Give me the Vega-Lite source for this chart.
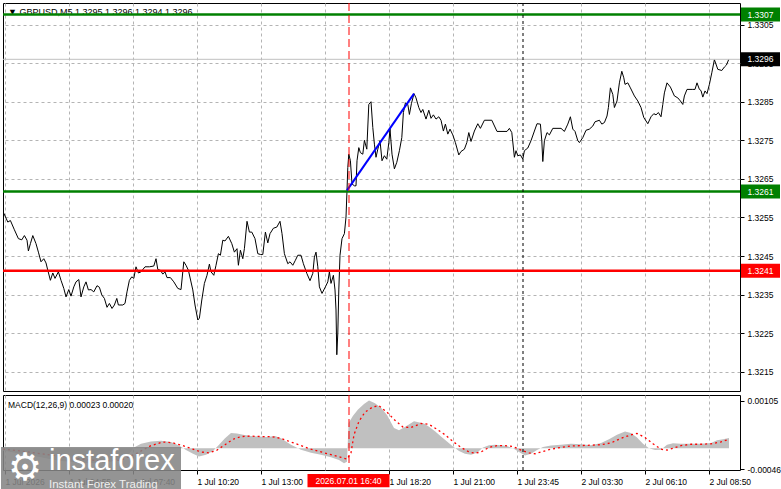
{
  "$schema": "https://vega.github.io/schema/vega-lite/v6.json",
  "background": "white",
  "padding": {"left": 0, "top": 2, "right": 0, "bottom": 0},
  "spacing": 2,
  "config": {
    "view": {"stroke": "#000000", "strokeWidth": 1},
    "axis": {"labelFont": "Liberation Sans", "labelFontSize": 8.5, "labelColor": "#000000", "tickColor": "#000000", "gridColor": "#b4b4b4", "gridDash": [3, 3], "gridWidth": 1, "domain": false},
    "text": {"font": "Liberation Sans"}
  },
  "datasets": {
    "price": [
      {"x":0.4,"p":1.32561},{"x":2.4,"p":1.32538},{"x":3.7,"p":1.32542},{"x":5.7,"p":1.32518},{"x":7.7,"p":1.32495},{"x":9.4,"p":1.32492},{"x":10.7,"p":1.32503},{"x":12,"p":1.32491},{"x":12.7,"p":1.32463},{"x":13.7,"p":1.32482},{"x":14.9,"p":1.32503},{"x":16.5,"p":1.32482},{"x":17.7,"p":1.3246},{"x":19,"p":1.32435},{"x":20.4,"p":1.32443},{"x":21.5,"p":1.32432},{"x":22.4,"p":1.32413},{"x":23.7,"p":1.32387},{"x":24.9,"p":1.32406},{"x":26,"p":1.32392},{"x":27.7,"p":1.32409},{"x":29,"p":1.32387},{"x":30.4,"p":1.32366},{"x":31.5,"p":1.32344},{"x":32.9,"p":1.32363},{"x":34,"p":1.32346},{"x":35.4,"p":1.3237},{"x":36.5,"p":1.32383},{"x":37.9,"p":1.32389},{"x":39,"p":1.32344},{"x":40.4,"p":1.3237},{"x":41.5,"p":1.32383},{"x":42.7,"p":1.32362},{"x":44,"p":1.32363},{"x":45.4,"p":1.32357},{"x":47,"p":1.32373},{"x":48.2,"p":1.32369},{"x":49.4,"p":1.32349},{"x":50.7,"p":1.3234},{"x":52,"p":1.32317},{"x":53.2,"p":1.32327},{"x":54.5,"p":1.32314},{"x":55.7,"p":1.32323},{"x":56.9,"p":1.3234},{"x":57.7,"p":1.32323},{"x":59.9,"p":1.32323},{"x":61,"p":1.32327},{"x":62,"p":1.32357},{"x":63.2,"p":1.32387},{"x":64.4,"p":1.32396},{"x":65.4,"p":1.32392},{"x":66.5,"p":1.32422},{"x":67.7,"p":1.32406},{"x":69,"p":1.32409},{"x":71,"p":1.32422},{"x":73.2,"p":1.32422},{"x":75.4,"p":1.32424},{"x":76.5,"p":1.32443},{"x":77.4,"p":1.32415},{"x":78.7,"p":1.32413},{"x":79.9,"p":1.32403},{"x":81,"p":1.32409},{"x":82,"p":1.32394},{"x":83.7,"p":1.32394},{"x":85.4,"p":1.32383},{"x":87.4,"p":1.32366},{"x":89,"p":1.32363},{"x":90.4,"p":1.32435},{"x":91.5,"p":1.32426},{"x":92.7,"p":1.32413},{"x":94.9,"p":1.32362},{"x":96,"p":1.32323},{"x":97.4,"p":1.32284},{"x":98.2,"p":1.32289},{"x":99.4,"p":1.32336},{"x":100.7,"p":1.32379},{"x":102,"p":1.324},{"x":103.2,"p":1.32429},{"x":104,"p":1.32409},{"x":105.4,"p":1.324},{"x":106.5,"p":1.32426},{"x":107.7,"p":1.32456},{"x":108.7,"p":1.32452},{"x":109.9,"p":1.32491},{"x":111,"p":1.32489},{"x":112.7,"p":1.32501},{"x":114.4,"p":1.32482},{"x":115.7,"p":1.3246},{"x":117,"p":1.32469},{"x":117.7,"p":1.32426},{"x":118.7,"p":1.32465},{"x":119.9,"p":1.32443},{"x":120.7,"p":1.32469},{"x":122,"p":1.3254},{"x":123.2,"p":1.32512},{"x":124.4,"p":1.32512},{"x":126,"p":1.32495},{"x":127.4,"p":1.32456},{"x":128.7,"p":1.32454},{"x":129.9,"p":1.32454},{"x":131.2,"p":1.32512},{"x":132.4,"p":1.32484},{"x":133.5,"p":1.32508},{"x":135.2,"p":1.32522},{"x":136.9,"p":1.32525},{"x":138.5,"p":1.3254},{"x":139.5,"p":1.32508},{"x":140.7,"p":1.32456},{"x":142.4,"p":1.3243},{"x":143.5,"p":1.32435},{"x":144.9,"p":1.32426},{"x":146.2,"p":1.32439},{"x":147.4,"p":1.32452},{"x":149,"p":1.32452},{"x":150.2,"p":1.3243},{"x":151.9,"p":1.32405},{"x":153.5,"p":1.32386},{"x":154.9,"p":1.32405},{"x":155.7,"p":1.32447},{"x":156.5,"p":1.3246},{"x":157.4,"p":1.32422},{"x":158.2,"p":1.3237},{"x":159.5,"p":1.32353},{"x":161.2,"p":1.3237},{"x":162.4,"p":1.32383},{"x":163.2,"p":1.32409},{"x":164,"p":1.32379},{"x":165.2,"p":1.324},{"x":166,"p":1.32362},{"x":166.5,"p":1.3231},{"x":166.9,"p":1.32194},{"x":167.4,"p":1.3225},{"x":167.9,"p":1.32362},{"x":168.5,"p":1.32452},{"x":169.5,"p":1.32495},{"x":170.7,"p":1.32508},{"x":171.5,"p":1.32551},{"x":172,"p":1.3262},{"x":172.4,"p":1.3268},{"x":172.9,"p":1.32714},{"x":173.7,"p":1.32697},{"x":174.5,"p":1.32637},{"x":175.7,"p":1.32632},{"x":176.5,"p":1.32632},{"x":177,"p":1.32697},{"x":177.9,"p":1.32731},{"x":178.7,"p":1.32718},{"x":179.9,"p":1.32714},{"x":180.7,"p":1.3275},{"x":181.9,"p":1.32727},{"x":182.9,"p":1.32843},{"x":184,"p":1.3285},{"x":184.9,"p":1.32783},{"x":185.7,"p":1.3274},{"x":186.5,"p":1.32706},{"x":187.4,"p":1.32727},{"x":188.5,"p":1.32749},{"x":189.5,"p":1.32697},{"x":190.7,"p":1.3271},{"x":191.9,"p":1.32701},{"x":192.9,"p":1.32744},{"x":193.5,"p":1.32779},{"x":194.5,"p":1.32714},{"x":195.7,"p":1.32676},{"x":196.9,"p":1.32693},{"x":198.2,"p":1.32723},{"x":199.4,"p":1.32757},{"x":200.2,"p":1.32822},{"x":201.2,"p":1.32847},{"x":202.4,"p":1.32843},{"x":203.2,"p":1.32817},{"x":204.2,"p":1.32845},{"x":205.5,"p":1.32871},{"x":206.5,"p":1.3286},{"x":207.9,"p":1.32835},{"x":209,"p":1.32822},{"x":209.9,"p":1.3283},{"x":211.5,"p":1.32805},{"x":212.9,"p":1.32828},{"x":214,"p":1.32807},{"x":215.2,"p":1.32816},{"x":216.5,"p":1.32805},{"x":217.9,"p":1.32811},{"x":219,"p":1.32802},{"x":220.2,"p":1.32774},{"x":221.2,"p":1.32792},{"x":222.4,"p":1.32766},{"x":223.5,"p":1.32779},{"x":224.9,"p":1.32764},{"x":226.2,"p":1.32744},{"x":227.9,"p":1.32712},{"x":229,"p":1.32721},{"x":230.7,"p":1.32727},{"x":231.9,"p":1.32744},{"x":232.9,"p":1.3277},{"x":234,"p":1.32747},{"x":235.7,"p":1.32774},{"x":237.4,"p":1.32793},{"x":238.7,"p":1.32781},{"x":240.7,"p":1.32802},{"x":244.4,"p":1.32802},{"x":247,"p":1.32773},{"x":252,"p":1.32773},{"x":253.2,"p":1.32781},{"x":254.4,"p":1.3277},{"x":255.7,"p":1.32706},{"x":256.5,"p":1.32723},{"x":257.4,"p":1.3271},{"x":258.7,"p":1.32712},{"x":259.9,"p":1.32701},{"x":260.7,"p":1.32723},{"x":262.4,"p":1.3273},{"x":264,"p":1.32749},{"x":265.7,"p":1.32774},{"x":267,"p":1.32793},{"x":268.7,"p":1.32792},{"x":269.4,"p":1.32749},{"x":269.9,"p":1.32695},{"x":270.7,"p":1.32749},{"x":272,"p":1.3277},{"x":273.2,"p":1.32764},{"x":274.9,"p":1.32781},{"x":279,"p":1.32781},{"x":280.7,"p":1.32773},{"x":282.4,"p":1.32792},{"x":283.7,"p":1.32811},{"x":284.9,"p":1.32779},{"x":286,"p":1.32773},{"x":287.4,"p":1.32749},{"x":288.2,"p":1.32744},{"x":289.9,"p":1.32757},{"x":291.5,"p":1.32776},{"x":293.2,"p":1.32779},{"x":294.9,"p":1.32787},{"x":296,"p":1.32798},{"x":298.2,"p":1.32802},{"x":299.4,"p":1.32792},{"x":300.7,"p":1.32796},{"x":302,"p":1.32813},{"x":302.7,"p":1.32835},{"x":303.7,"p":1.32886},{"x":304.9,"p":1.32869},{"x":305.7,"p":1.32835},{"x":307,"p":1.32852},{"x":308.2,"p":1.32899},{"x":309.4,"p":1.32929},{"x":310.4,"p":1.32912},{"x":311,"p":1.32895},{"x":312.4,"p":1.32899},{"x":313.7,"p":1.32886},{"x":315.7,"p":1.32865},{"x":317.4,"p":1.32852},{"x":319,"p":1.32835},{"x":320.4,"p":1.32809},{"x":322.4,"p":1.32793},{"x":324,"p":1.32811},{"x":325.4,"p":1.32819},{"x":326.5,"p":1.32816},{"x":327.7,"p":1.32822},{"x":329,"p":1.32811},{"x":329.9,"p":1.32843},{"x":330.7,"p":1.32873},{"x":332,"p":1.32899},{"x":333.7,"p":1.32888},{"x":335.7,"p":1.32865},{"x":337.4,"p":1.3286},{"x":338.7,"p":1.32852},{"x":339.9,"p":1.32843},{"x":340.7,"p":1.32865},{"x":342,"p":1.32882},{"x":344.9,"p":1.32882},{"x":346,"p":1.32882},{"x":347,"p":1.32899},{"x":348.2,"p":1.32882},{"x":349,"p":1.32879},{"x":349.9,"p":1.32862},{"x":351,"p":1.32878},{"x":352,"p":1.32871},{"x":353.2,"p":1.32895},{"x":354.4,"p":1.32925},{"x":355.7,"p":1.32959},{"x":357.4,"p":1.32934},{"x":359.4,"p":1.32931},{"x":360.7,"p":1.3294},{"x":361.7,"p":1.32945},{"x":362.9,"p":1.3296}
    ],
    "levels": [
      {"kind": "resistance", "p": 1.33076, "lab": "1.3307"},
      {"kind": "support", "p": 1.32617, "lab": "1.3261"},
      {"kind": "stop", "p": 1.32412, "lab": "1.3241"},
      {"kind": "current", "p": 1.3296, "lab": "1.3296"}
    ],
    "trend": [{"x": 172, "p": 1.3262}, {"x": 205.5, "p": 1.32871}],
    "macd": [
      {"x":0,"m":-0.00005},{"x":4,"m":-0.00008},{"x":9,"m":-0.00012},{"x":14,"m":-0.00016},{"x":19,"m":-0.0002},{"x":24,"m":-0.00024},{"x":29,"m":-0.00028},{"x":34,"m":-0.0003},{"x":39,"m":-0.00032},{"x":44,"m":-0.00033},{"x":49,"m":-0.00032},{"x":54,"m":-0.0003},{"x":59,"m":-0.00022},{"x":63,"m":-0.00012},{"x":65.5,"m":0.00002},{"x":69,"m":0.0001},{"x":74,"m":0.00015},{"x":79,"m":0.00017},{"x":84,"m":0.00014},{"x":88,"m":0.00006},{"x":91.5,"m":-0.00004},{"x":95,"m":-0.00012},{"x":98,"m":-0.00018},{"x":101.5,"m":-0.00014},{"x":105,"m":-0.00006},{"x":108,"m":0.00008},{"x":111,"m":0.00022},{"x":114,"m":0.00034},{"x":117,"m":0.00033},{"x":120,"m":0.0003},{"x":124,"m":0.00027},{"x":128,"m":0.00026},{"x":132,"m":0.00025},{"x":136,"m":0.00027},{"x":139,"m":0.00022},{"x":144,"m":0.00008},{"x":149,"m":-0.00003},{"x":154,"m":-0.0001},{"x":159,"m":-0.00014},{"x":164,"m":-0.0002},{"x":168,"m":-0.00026},{"x":170.5,"m":-0.00033},{"x":172,"m":-0.0003},{"x":172.8,"m":0.00056},{"x":175,"m":0.00072},{"x":177.5,"m":0.00086},{"x":180.5,"m":0.00098},{"x":183,"m":0.00106},{"x":186,"m":0.001},{"x":189,"m":0.0009},{"x":192,"m":0.00074},{"x":195.5,"m":0.00045},{"x":198,"m":0.0004},{"x":200.5,"m":0.00046},{"x":205.5,"m":0.0006},{"x":210.5,"m":0.00055},{"x":213,"m":0.00048},{"x":216,"m":0.00038},{"x":219,"m":0.00026},{"x":222,"m":0.00015},{"x":225,"m":0.00004},{"x":228,"m":-0.00006},{"x":231,"m":-0.00012},{"x":234,"m":-0.00014},{"x":237,"m":-0.0001},{"x":240,"m":0.00002},{"x":243,"m":0.00007},{"x":246,"m":0.00008},{"x":249,"m":0.00007},{"x":252,"m":0.00005},{"x":255,"m":0},{"x":258,"m":-0.00008},{"x":261,"m":-0.00016},{"x":264,"m":-0.00012},{"x":267,"m":-0.00004},{"x":270,"m":0.00003},{"x":274,"m":0.00006},{"x":279,"m":0.00008},{"x":284,"m":0.0001},{"x":289,"m":0.00009},{"x":294,"m":0.00007},{"x":299,"m":0.00012},{"x":303,"m":0.0002},{"x":307,"m":0.0003},{"x":311,"m":0.00037},{"x":314,"m":0.00034},{"x":317,"m":0.00024},{"x":320,"m":0.0001},{"x":323,"m":0},{"x":326,"m":-0.00004},{"x":329,"m":-0.00003},{"x":332,"m":0.00008},{"x":335,"m":0.00011},{"x":339,"m":0.0001},{"x":344,"m":0.0001},{"x":349,"m":0.0001},{"x":354,"m":0.00012},{"x":357,"m":0.00018},{"x":360,"m":0.0002},{"x":363,"m":0.00023}
    ],
    "signal": [
      {"x":0,"s":-0.00002},{"x":9,"s":-0.00006},{"x":19,"s":-0.00012},{"x":29,"s":-0.00018},{"x":39,"s":-0.00024},{"x":49,"s":-0.00028},{"x":59,"s":-0.00026},{"x":66.5,"s":-0.00012},{"x":74,"s":0.00006},{"x":80,"s":0.00014},{"x":85,"s":0.00012},{"x":90,"s":0.00006},{"x":95,"s":-0.00002},{"x":99,"s":-0.00008},{"x":103,"s":-0.0001},{"x":107,"s":-0.00004},{"x":111,"s":0.00008},{"x":115,"s":0.0002},{"x":119,"s":0.00026},{"x":124,"s":0.00027},{"x":129,"s":0.00026},{"x":134,"s":0.00026},{"x":139,"s":0.00022},{"x":144,"s":0.00014},{"x":149,"s":0.00006},{"x":154,"s":-0.00002},{"x":159,"s":-0.00008},{"x":164,"s":-0.00014},{"x":169,"s":-0.0002},{"x":172,"s":-0.00024},{"x":174,"s":-0.0001},{"x":175.5,"s":0.0003},{"x":178,"s":0.0006},{"x":181,"s":0.0008},{"x":185,"s":0.00092},{"x":188,"s":0.00094},{"x":192,"s":0.0008},{"x":196,"s":0.00062},{"x":200,"s":0.00047},{"x":204,"s":0.00046},{"x":209,"s":0.00055},{"x":213,"s":0.00053},{"x":217,"s":0.00042},{"x":221,"s":0.0003},{"x":225,"s":0.00015},{"x":229,"s":0.00002},{"x":233,"s":-0.00008},{"x":236,"s":-0.00011},{"x":239,"s":-0.00008},{"x":243,"s":0.00002},{"x":247,"s":0.00006},{"x":251,"s":0.00006},{"x":255,"s":0.00004},{"x":259,"s":-0.00004},{"x":263,"s":-0.0001},{"x":266,"s":-0.00012},{"x":269,"s":-0.00008},{"x":274,"s":-0.00002},{"x":279,"s":0.00002},{"x":284,"s":0.00005},{"x":289,"s":0.00006},{"x":294,"s":0.00007},{"x":299,"s":0.00008},{"x":304,"s":0.00012},{"x":309,"s":0.00022},{"x":314,"s":0.0003},{"x":317,"s":0.00033},{"x":321,"s":0.00024},{"x":325,"s":0.0001},{"x":329,"s":-0.00002},{"x":332,"s":-0.00004},{"x":335,"s":0},{"x":339,"s":0.00006},{"x":344,"s":0.00009},{"x":349,"s":0.00009},{"x":354,"s":0.0001},{"x":359,"s":0.00014},{"x":363,"s":0.0002}
    ]
  },
  "vconcat": [
    {
      "width": 737,
      "height": 388,
      "layer": [
        {
          "data": {"name": "price"},
          "mark": {"type": "line", "color": "#000000", "strokeWidth": 1, "clip": true},
          "encoding": {
            "x": {"field": "x", "type": "quantitative", "scale": {"domain": [0, 368.5], "nice": false, "zero": false},
              "axis": {"values": [1,17,33,49,65,81,97,113,129,145,161,177,193,209,225,241,257,273,289,305,321,337,353], "labels": false, "ticks": false, "domain": false, "grid": true, "title": null, "minExtent": 0, "maxExtent": 0}},
            "y": {"field": "p", "type": "quantitative", "scale": {"domain": [1.321, 1.33106], "nice": false, "zero": false},
              "axis": {"orient": "right", "values": [1.3215,1.3225,1.3235,1.3245,1.3255,1.3265,1.3275,1.3285,1.3295,1.3305], "format": ".4f", "grid": true, "tickSize": 4, "labelPadding": 3, "title": null}}
          }
        },
        {
          "data": {"values": [{}]},
          "mark": {"type": "text", "align": "left", "baseline": "alphabetic", "dx": 5, "dy": 11.5, "fontSize": 9, "color": "#000000"},
          "encoding": {"x": {"datum": 0, "type": "quantitative"}, "y": {"datum": 1.33106, "type": "quantitative"}, "text": {"value": "▼ GBPUSD,M5  1.3295 1.3296 1.3294 1.3296"}}
        },
        {
          "data": {"name": "levels"},
          "transform": [{"filter": "datum.kind == 'current'"}],
          "mark": {"type": "rule", "color": "#c0c0c0", "strokeWidth": 1},
          "encoding": {"y": {"field": "p", "type": "quantitative"}}
        },
        {
          "data": {"name": "levels"},
          "transform": [{"filter": "datum.kind != 'current'"}],
          "mark": {"type": "rule", "strokeWidth": 2.5},
          "encoding": {"y": {"field": "p", "type": "quantitative"},
            "color": {"field": "kind", "type": "nominal", "scale": {"domain": ["resistance", "support", "stop", "current"], "range": ["#008000", "#008000", "#ff0000", "#000000"]}, "legend": null}}
        },
        {
          "data": {"name": "trend"},
          "mark": {"type": "line", "color": "#0000ff", "strokeWidth": 2},
          "encoding": {"x": {"field": "x", "type": "quantitative"}, "y": {"field": "p", "type": "quantitative"}}
        },
        {
          "data": {"values": [{}]},
          "mark": {"type": "rule", "color": "#ff0000", "strokeDash": [8, 4], "strokeWidth": 1},
          "encoding": {"x": {"datum": 173, "type": "quantitative"}}
        },
        {
          "data": {"values": [{}]},
          "mark": {"type": "rule", "color": "#000000", "strokeDash": [3, 3], "strokeWidth": 1},
          "encoding": {"x": {"datum": 260, "type": "quantitative"}}
        },
        {
          "data": {"name": "levels"},
          "mark": {"type": "point", "shape": "M-1,-0.36H1V0.36H-1Z", "size": 1521, "filled": true, "opacity": 1, "strokeWidth": 0, "clip": false},
          "encoding": {"x": {"datum": 378.75, "type": "quantitative"}, "y": {"field": "p", "type": "quantitative"},
            "color": {"field": "kind", "type": "nominal", "scale": {"domain": ["resistance", "support", "stop", "current"], "range": ["#008000", "#008000", "#ff0000", "#000000"]}, "legend": null}}
        },
        {
          "data": {"name": "levels"},
          "mark": {"type": "text", "align": "center", "baseline": "middle", "fontSize": 8.5, "color": "#ffffff", "clip": false},
          "encoding": {"x": {"datum": 378.75, "type": "quantitative"}, "y": {"field": "p", "type": "quantitative"}, "text": {"field": "lab"}}
        }
      ]
    },
    {
      "width": 737,
      "height": 75,
      "layer": [
        {
          "data": {"name": "macd"},
          "mark": {"type": "area", "color": "#c0c0c0", "opacity": 1, "clip": true},
          "encoding": {
            "x": {"field": "x", "type": "quantitative", "scale": {"domain": [0, 368.5], "nice": false, "zero": false},
              "axis": {"values": [1,17,33,49,65,81,97,113,129,145,161,177,193,209,225,241,257,273,289,305,321,337,353], "grid": true, "title": null, "labelAlign": "left", "labelPadding": 3, "tickSize": 4, "labelOverlap": false, "labelFlush": false,
                "tickOpacity": {"condition": {"test": "indexof([1,33,65,97,129,193,225,257,289,321,353], datum.value) >= 0", "value": 1}, "value": 0},
                "labelExpr": "datum.value == 1 ? '1 Jul 2026' : datum.value == 33 ? '1 Jul 04:55' : datum.value == 65 ? '1 Jul 07:40' : datum.value == 97 ? '1 Jul 10:20' : datum.value == 129 ? '1 Jul 13:00' : datum.value == 193 ? '1 Jul 18:20' : datum.value == 225 ? '1 Jul 21:00' : datum.value == 257 ? '1 Jul 23:45' : datum.value == 289 ? '2 Jul 03:30' : datum.value == 321 ? '2 Jul 06:10' : datum.value == 353 ? '2 Jul 08:50' : ''"}},
            "y": {"field": "m", "type": "quantitative", "scale": {"domain": [-0.00048, 0.00118], "nice": false, "zero": false},
              "axis": {"orient": "right", "values": [0.00105, 0, -0.00046], "labelExpr": "datum.value == 0 ? '0.00' : datum.value > 0 ? '0.00105' : '-0.00046'", "grid": true, "gridOpacity": {"condition": {"test": "datum.value == 0", "value": 1}, "value": 0}, "tickSize": 4, "labelPadding": 3, "title": null}}
          }
        },
        {
          "data": {"name": "signal"},
          "mark": {"type": "line", "color": "#ff0000", "strokeWidth": 1.3, "strokeDash": [2, 3], "clip": true},
          "encoding": {"x": {"field": "x", "type": "quantitative"}, "y": {"field": "s", "type": "quantitative"}}
        },
        {
          "data": {"values": [{}]},
          "mark": {"type": "rule", "color": "#ff0000", "strokeDash": [8, 4], "strokeWidth": 1},
          "encoding": {"x": {"datum": 173, "type": "quantitative"}}
        },
        {
          "data": {"values": [{}]},
          "mark": {"type": "rule", "color": "#000000", "strokeDash": [3, 3], "strokeWidth": 1},
          "encoding": {"x": {"datum": 260, "type": "quantitative"}}
        },
        {
          "data": {"values": [{}]},
          "mark": {"type": "text", "align": "left", "baseline": "alphabetic", "dx": 5, "dy": 12.5, "fontSize": 8.5, "color": "#000000"},
          "encoding": {"x": {"datum": 0, "type": "quantitative"}, "y": {"datum": 0.00118, "type": "quantitative"}, "text": {"value": "MACD(12,26,9) 0.00023 0.00020"}}
        },
        {
          "data": {"values": [{}]},
          "mark": {"type": "point", "shape": "M-1,-0.16H1V0.16H-1Z", "size": 6724, "filled": true, "opacity": 1, "strokeWidth": 0, "color": "#ff0000", "clip": false},
          "encoding": {"x": {"datum": 172.75, "type": "quantitative"}, "y": {"datum": -0.000715, "type": "quantitative"}}
        },
        {
          "data": {"values": [{}]},
          "mark": {"type": "text", "align": "center", "baseline": "middle", "fontSize": 8.5, "color": "#ffffff", "clip": false},
          "encoding": {"x": {"datum": 172.75, "type": "quantitative"}, "y": {"datum": -0.000715, "type": "quantitative"}, "text": {"value": "2026.07.01 16:40"}}
        },
        {
          "data": {"values": [{}]},
          "mark": {"type": "point", "shape": "M-1,-0.25H1V0.25H-1Z", "size": 32400, "filled": true, "opacity": 0.88, "strokeWidth": 0, "color": "#858585", "clip": false},
          "encoding": {"x": {"datum": 44, "type": "quantitative"}, "y": {"datum": -0.00047, "type": "quantitative"}}
        },
        {
          "data": {"values": [{}]},
          "mark": {"type": "text", "align": "center", "baseline": "middle", "fontSize": 38, "font": "DejaVu Sans", "color": "#ffffff", "clip": false},
          "encoding": {"x": {"datum": 11, "type": "quantitative"}, "y": {"datum": -0.00046, "type": "quantitative"}, "text": {"value": "⚙"}}
        },
        {
          "data": {"values": [{}]},
          "mark": {"type": "text", "align": "left", "baseline": "alphabetic", "fontSize": 29, "color": "#ffffff", "clip": false},
          "encoding": {"x": {"datum": 23, "type": "quantitative"}, "y": {"datum": -0.000482, "type": "quantitative"}, "text": {"value": "instaforex"}}
        },
        {
          "data": {"values": [{}]},
          "mark": {"type": "text", "align": "left", "baseline": "alphabetic", "fontSize": 11.5, "color": "#eeeeee", "clip": false},
          "encoding": {"x": {"datum": 23, "type": "quantitative"}, "y": {"datum": -0.00087, "type": "quantitative"}, "text": {"value": "Instant Forex Trading"}}
        }
      ]
    }
  ]
}
